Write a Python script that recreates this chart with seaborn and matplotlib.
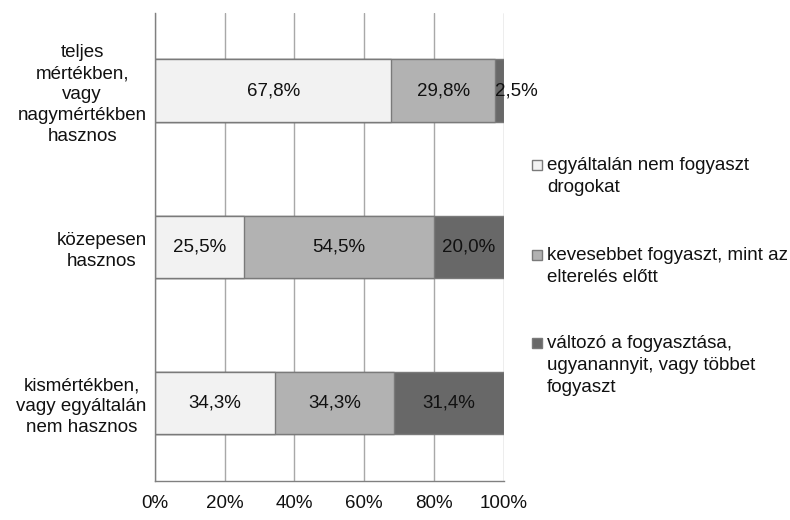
import matplotlib
matplotlib.use("Agg")
import matplotlib.pyplot as plt
import seaborn as sns
import pandas as pd
import numpy as np
from matplotlib.patches import Rectangle

categories = ["teljes\nmértékben,\nvagy\nnagymértékben\nhasznos",
              "közepesen\nhasznos",
              "kismértékben,\nvagy egyáltalán\nnem hasznos"]
series_names = ["egyáltalán nem fogyaszt\ndrogokat",
                "kevesebbet fogyaszt, mint az\nelterelés előtt",
                "változó a fogyasztása,\nugyanannyit, vagy többet\nfogyaszt"]
s_none = [67.8, 25.5, 34.3]
s_less = [29.8, 54.5, 34.3]
s_var = [2.5, 20.0, 31.4]
x_ticks = [0, 20, 40, 60, 80, 100]
x_tick_labels = ["0%", "20%", "40%", "60%", "80%", "100%"]

colors = ["#f2f2f2", "#b2b2b2", "#686868"]
edge = "#7a7a7a"
FS = 13.5

sns.set_style("white")
plt.rcParams["font.family"] = ["Liberation Sans", "DejaVu Sans"]
plt.rcParams["font.size"] = FS

fig = plt.figure(figsize=(7.9, 5.2), dpi=100)
ax = fig.add_axes([155/790, 1 - 481/520, (503.5-155)/790, (481-12.5)/520])

series = [s_none, s_less, s_var]
cum = np.cumsum(np.array(series), axis=0)
df = pd.DataFrame({"cat": categories})
for i in reversed(range(3)):
    df["v"] = cum[i]
    sns.barplot(data=df, x="v", y="cat", orient="h", color=colors[i],
                saturation=1, width=0.4, edgecolor=edge, linewidth=1.0,
                ax=ax, order=categories)

# labels
for j in range(len(categories)):
    left = 0.0
    for i in range(3):
        v = series[i][j]
        txt = f"{v:.1f}%".replace(".", ",")
        if v < 5:
            ax.text(left, j, txt, ha="left", va="center", fontsize=FS,
                    color="#111111", clip_on=False)
        else:
            ax.text(left + v / 2, j, txt, ha="center", va="center",
                    fontsize=FS, color="#111111")
        left += v

ax.set_xlim(0, 100)
ax.set_ylim(2.5, -0.5)
ax.set_xlabel("")
ax.set_ylabel("")
ax.set_xticks(x_ticks)
ax.set_xticklabels(x_tick_labels, fontsize=FS, color="#111111")
ax.set_yticks(range(len(categories)))
ax.set_yticklabels(categories, fontsize=FS, color="#111111",
                   multialignment="center", linespacing=1.3)
ax.set_yticks([-0.5, 0.5, 1.5, 2.5], minor=True)
ax.tick_params(axis="y", which="major", length=0, pad=6)
ax.tick_params(axis="y", which="minor", length=5, color="#808080", width=1, direction="out")
ax.tick_params(axis="x", which="major", length=5, color="#808080", width=1,
               direction="out", pad=5)
ax.xaxis.grid(True, color="#a8a8a8", linewidth=1)
ax.yaxis.grid(False)
ax.set_axisbelow(True)
for s in ["top", "right"]:
    ax.spines[s].set_visible(False)
for s in ["left", "bottom"]:
    ax.spines[s].set_color("#808080")
    ax.spines[s].set_linewidth(1)

# legend (marker aligned with first text line, as in the reference)
entry_tops = [165, 255, 343]
line_h = 22
for i, name in enumerate(series_names):
    yc = entry_tops[i]
    fig.add_artist(Rectangle((532/790, 1 - (yc + 5)/520), 10/790, 10/520,
                             transform=fig.transFigure, facecolor=colors[i],
                             edgecolor=edge, linewidth=1))
    for k, line in enumerate(name.split("\n")):
        fig.text(547/790, 1 - (yc + k*line_h)/520, line, ha="left",
                 va="center", fontsize=FS, color="#111111")

fig.savefig("out.png", dpi=100)
